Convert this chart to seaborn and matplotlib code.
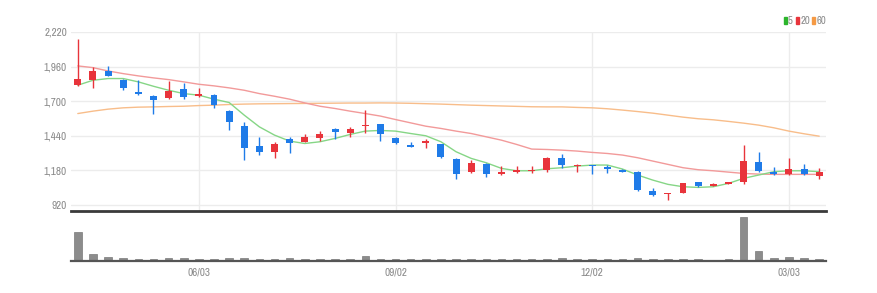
import numpy as np
import pandas as pd
import matplotlib
matplotlib.use("Agg")
import matplotlib.pyplot as plt
from matplotlib.patches import Rectangle
from matplotlib import font_manager
import seaborn as sns

# ---- data (weekly) ----
dates = pd.date_range("2024-04-08", periods=50, freq="7D")
opens = [1820, 1857, 1925, 1862, 1767, 1742, 1725, 1795, 1740, 1750,
         1625, 1515, 1365, 1315, 1412, 1395, 1425, 1490, 1462, 1512,
         1525, 1425, 1367, 1382, 1375, 1265, 1165, 1227, 1152, 1167,
         1172, 1182, 1275, 1215, 1217, 1207, 1185, 1170, 1027, 1000,
         1012, 1090, 1065, 1077, 1095, 1245, 1170, 1150, 1187, 1140]
highs = [2170, 1957, 1962, 1870, 1857, 1745, 1850, 1840, 1800, 1757,
         1630, 1545, 1432, 1390, 1432, 1457, 1475, 1495, 1507, 1632,
         1525, 1432, 1395, 1412, 1377, 1270, 1257, 1232, 1215, 1212,
         1212, 1282, 1300, 1225, 1220, 1220, 1187, 1175, 1045, 1012,
         1087, 1095, 1082, 1095, 1370, 1320, 1207, 1270, 1227, 1195]
lows = [1815, 1800, 1887, 1782, 1750, 1607, 1715, 1720, 1735, 1652,
        1487, 1257, 1295, 1275, 1307, 1390, 1400, 1415, 1432, 1462,
        1400, 1380, 1355, 1345, 1275, 1115, 1157, 1132, 1145, 1162,
        1157, 1170, 1195, 1170, 1152, 1157, 1167, 1025, 987, 957,
        1007, 1052, 1060, 1075, 1075, 1165, 1147, 1145, 1147, 1112]
closes = [1870, 1927, 1890, 1800, 1752, 1712, 1775, 1730, 1755, 1670,
          1545, 1345, 1315, 1380, 1387, 1432, 1450, 1465, 1490, 1524,
          1455, 1385, 1357, 1397, 1280, 1152, 1237, 1150, 1170, 1180,
          1181, 1275, 1220, 1222, 1210, 1187, 1170, 1032, 995, 1010,
          1082, 1062, 1077, 1090, 1250, 1177, 1155, 1190, 1152, 1170]
volumes = [65, 14, 8, 5, 4, 4, 5, 5, 4, 4,
           5, 5, 3, 3, 5, 4, 3, 3, 3, 10,
           4, 3, 3, 3, 4, 4, 3, 3, 3, 3,
           3, 4, 5, 3, 3, 3, 3, 5, 3, 3,
           3, 3, 2, 3, 100, 22, 5, 8, 5, 4]
ma5 = [1820, 1857, 1870, 1870, 1845, 1812, 1782, 1757, 1745, 1715,
       1690, 1595, 1507, 1445, 1400, 1382, 1395, 1420, 1450, 1475,
       1480, 1475, 1457, 1440, 1395, 1320, 1270, 1237, 1195, 1177,
       1177, 1192, 1200, 1212, 1220, 1220, 1190, 1145, 1107, 1075,
       1057, 1052, 1057, 1082, 1120, 1145, 1170, 1177, 1177, 1170]
ma20 = [1965, 1952, 1927, 1907, 1890, 1875, 1862, 1845, 1827, 1815,
        1800, 1782, 1757, 1737, 1715, 1687, 1662, 1645, 1625, 1607,
        1588, 1562, 1537, 1512, 1495, 1475, 1457, 1432, 1407, 1375,
        1340, 1337, 1332, 1325, 1315, 1307, 1295, 1275, 1250, 1225,
        1200, 1185, 1177, 1167, 1157, 1152, 1150, 1150, 1150, 1150]
ma60 = [1607, 1625, 1640, 1650, 1655, 1657, 1660, 1662, 1667, 1670,
        1675, 1678, 1680, 1681, 1682, 1683, 1684, 1685, 1686, 1686,
        1687, 1686, 1684, 1681, 1678, 1674, 1670, 1667, 1664, 1661,
        1658, 1657, 1657, 1653, 1650, 1643, 1633, 1622, 1610, 1595,
        1580, 1568, 1560, 1548, 1535, 1520, 1500, 1475, 1455, 1437]
tick_labels = ["06/03", "09/02", "12/02", "03/03"]
y_ticks = [920, 1180, 1440, 1700, 1960, 2220]
ma_names = ["5", "20", "60"]

# ---- styling ----
sns.set_theme(style="white")

# pick a regular-weight condensed font if one is installed
def is_cond(f):
    return ("Narrow" in f.name or "Condensed" in f.name or "Condensed" in f.fname
            or "Narrow" in f.fname or str(f.stretch) in ("condensed", "semi-condensed"))

def is_regular(f):
    w = f.weight
    wn = w if isinstance(w, (int, float)) else {"normal": 400, "regular": 400, "book": 400,
                                                  "light": 300, "medium": 500}.get(str(w).lower(), 700)
    bad = any(s in f.fname for s in ("Bold", "Oblique", "Italic", "Light", "Black", "Medium", "Semi", "Thin", "Extra"))
    return 350 <= wn <= 450 and f.style == "normal" and not bad

cands = [f for f in font_manager.fontManager.ttflist if is_cond(f) and is_regular(f)]
cands.sort(key=lambda f: (0 if "Narrow" in f.fname else 1 if "DejaVu" in f.fname else 2, f.fname))
FONT_FILE = cands[0].fname if cands else None
plt.rcParams["font.family"] = ["DejaVu Sans"]
FS = 8.0 if FONT_FILE else 6.4

def fp(size):
    if FONT_FILE:
        return font_manager.FontProperties(fname=FONT_FILE, size=size)
    return font_manager.FontProperties(family=["Roboto", "DejaVu Sans"], size=size)

UP = "#e8343b"
DOWN = "#1f7be8"
MA_COLORS = ["#86d686", "#f29a9a", "#f8bd8a"]
LEG_COLORS = ["#2cb52c", "#e8343b", "#f59a45"]
TXT = "#8a8a8a"

W, H = 877, 293
fig = plt.figure(figsize=(W / 100, H / 100), dpi=100)
x0, x1 = 71, 826
ax = fig.add_axes([x0 / W, (H - 210.7) / H, (x1 - x0) / W, (210.7 - 31.7) / H])
axv = fig.add_axes([x0 / W, (H - 260.5) / H, (x1 - x0) / W, (260.5 - 210.7) / H])

df = pd.DataFrame({"date": dates, "open": opens, "high": highs, "low": lows,
                   "close": closes, "volume": volumes,
                   "ma5": ma5, "ma20": ma20, "ma60": ma60})
df["i"] = np.arange(len(df))
tick_pos = [df.index[df["date"] == pd.Timestamp(d)][0] for d in
            ["2024-06-03", "2024-09-02", "2024-12-02", "2025-03-03"]]

# grid
for v in y_ticks:
    ax.axhline(v, color="#ececec", lw=1, zorder=0)
for p in tick_pos:
    ax.axvline(p, color="#ececec", lw=1, zorder=0)

# moving averages
for col, c in zip(["ma60", "ma20", "ma5"], [MA_COLORS[2], MA_COLORS[1], MA_COLORS[0]]):
    sns.lineplot(data=df, x="i", y=col, ax=ax, color=c, lw=1.0, zorder=2)

# candles
up = df["close"] >= df["open"]
colors = np.where(up, UP, DOWN)
ax.vlines(df["i"], df["low"], df["high"], colors=colors, lw=1.0, zorder=3)
body_lo = np.minimum(df["open"], df["close"])
body_h = np.maximum(np.abs(df["close"] - df["open"]), 8)
ax.bar(df["i"], body_h, bottom=body_lo, width=0.46, color=colors, zorder=4, linewidth=0)

ax.set_xlim(-0.45, 49.45)
ax.set_ylim(877, 2222)
ax.set_yticks(y_ticks)
ax.set_yticklabels([f"{v:,}" for v in y_ticks])
ax.tick_params(axis="y", length=0, pad=3, labelcolor=TXT)
for t in ax.get_yticklabels():
    t.set_fontproperties(fp(FS))
ax.set_xticks([])
ax.set_xlabel("")
ax.set_ylabel("")
for s in ax.spines.values():
    s.set_visible(False)

# legend (squares + labels), positioned in pixels
leg_sq_x = [783.5, 795.5, 811.5]
leg_tx_x = [788, 800.5, 816.5]
ly = 20.5
for name, c, sx, tx in zip(ma_names, LEG_COLORS, leg_sq_x, leg_tx_x):
    fig.patches.append(Rectangle((sx / W, 1 - (ly + 3.5) / H), 3.5 / W, 7 / H,
                                 transform=fig.transFigure, color=c, figure=fig))
    fig.text(tx / W, 1 - ly / H, name, color=TXT, va="center", ha="left",
             fontproperties=fp(FS - 0.3))

# volume
sns.barplot(data=df, x="i", y="volume", ax=axv, native_scale=True, color="#8c8c8c",
            width=0.5, edgecolor="#7a7a7a", linewidth=0.5, saturation=1)
axv.set_xlim(-0.45, 49.45)
axv.set_ylim(0, 115)
axv.set_yticks([])
axv.set_xticks(tick_pos)
axv.set_xticklabels(tick_labels)
axv.tick_params(axis="x", length=3, width=1, color="#666666",
                labelcolor=TXT, pad=2)
for t in axv.get_xticklabels():
    t.set_fontproperties(fp(FS))
axv.set_xlabel("")
axv.set_ylabel("")
for k in ["left", "right"]:
    axv.spines[k].set_visible(False)
axv.spines["top"].set_color("#3a3a3a")
axv.spines["top"].set_linewidth(2)
axv.spines["bottom"].set_color("#555555")
axv.spines["bottom"].set_linewidth(1.6)

fig.savefig("out.png", dpi=100)
